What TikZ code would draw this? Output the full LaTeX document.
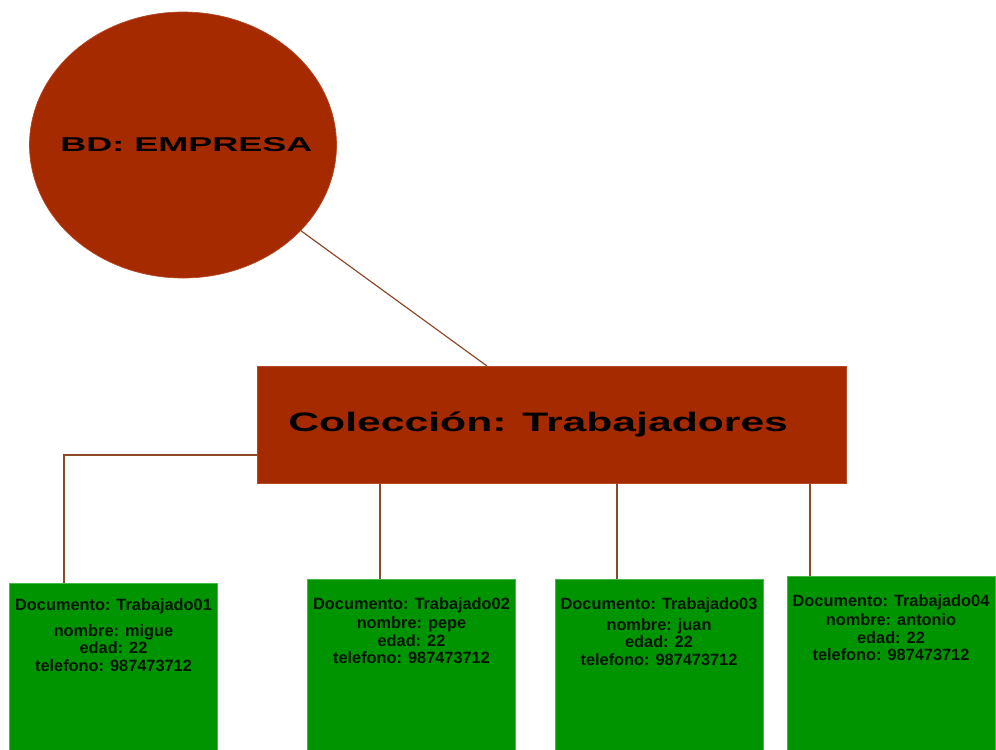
\documentclass[tikz,border=0pt]{standalone}
\usepackage{fontspec}
\setmainfont{Liberation Sans}
\newfontfamily\anchafont{Liberation Sans}[FakeStretch=1.6]
\newfontfamily\anchisimafont{Liberation Sans}[FakeStretch=1.8]
\usetikzlibrary{shapes.geometric}
\definecolor{ladrillo}{RGB}{166,42,0}
\definecolor{verde}{RGB}{0,148,0}
\definecolor{verdeborde}{RGB}{70,185,70}
\definecolor{linea}{RGB}{140,72,40}
\tikzset{mybd/.style={draw=ladrillo!85!white,fill=ladrillo,ellipse,minimum width=184.2pt,minimum height=159.6pt,inner sep=0pt,font=\anchisimafont\bfseries\fontsize{12}{13}\selectfont},
mycoleccion/.style={draw=ladrillo!85!white,fill=ladrillo,minimum width=353.4pt,minimum height=70.2pt,inner sep=0pt,font=\anchafont\bfseries\fontsize{16}{18}\selectfont},
mydoc/.style={draw=verdeborde,fill=verde,anchor=north,minimum width=125pt,minimum height=115pt,inner sep=0pt},
mydoctext/.style={anchor=north,align=center,inner sep=0pt,font=\bfseries\fontsize{9.8}{10.5}\selectfont,text=black!85!verde},
myline/.style={draw=linea,line width=0.7pt}}
\begin{document}
\begin{tikzpicture}[x=0.6pt,y=-0.6pt]
\useasboundingbox (0,0) rectangle (996,749);
\clip (0,0) rectangle (996,749);
\node[mybd] (bd) at (183,145) {\makebox[0pt]{\hspace*{4pt}BD: EMPRESA}};
\node[mycoleccion] (col) at (551.5,424.5) {\hspace*{-16pt}Colección: Trabajadores};
\node[mydoc] (d1) at (113.5,583) {};
\node[mydoc] (d2) at (411.5,579) {};
\node[mydoc] (d3) at (659,579) {};
\node[mydoc] (d4) at (891,576) {};
% textos de los documentos
\node[mydoctext] (t1) at ([yshift=-9pt]d1.north) {Documento: Trabajado01\\[5pt]nombre: migue\\edad: 22\\telefono: 987473712};
\node[mydoctext] (t2) at ([yshift=-11pt]d2.north) {Documento: Trabajado02\\[1pt]nombre: pepe\\edad: 22\\telefono: 987473712};
\node[mydoctext] (t3) at ([yshift=-11pt]d3.north) {Documento: Trabajado03\\[2pt]nombre: juan\\edad: 22\\telefono: 987473712};
\node[mydoctext] (t4) at ([yshift=-11pt]d4.north) {Documento: Trabajado04\\[1pt]nombre: antonio\\edad: 22\\telefono: 987473712};
% conectores
\coordinate (k0) at (487,366);
\coordinate (k1) at (64,455);
\coordinate (k2) at (380,0);
\coordinate (k3) at (617,0);
\coordinate (k4) at (810,0);
\draw[myline] (bd) -- (k0);
\draw[myline] (col.west |- k1) -- (k1) -- (k1 |- d1.north);
\draw[myline] (k2 |- col.south) -- (k2 |- d2.north);
\draw[myline] (k3 |- col.south) -- (k3 |- d3.north);
\draw[myline] (k4 |- col.south) -- (k4 |- d4.north);
\end{tikzpicture}
\end{document}
